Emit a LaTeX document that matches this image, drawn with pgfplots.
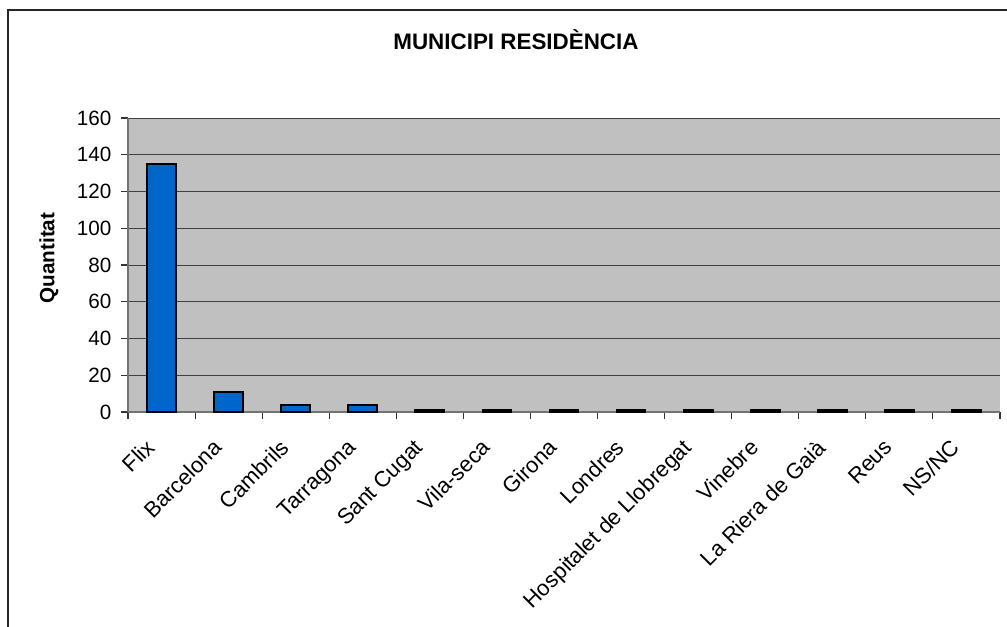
\documentclass[border=0pt]{standalone}
\usepackage{pgfplots}
\pgfplotsset{compat=1.18}
\usepackage{fontspec}
\setmainfont{Liberation Sans}
\definecolor{plotbg}{HTML}{C0C0C0}
\definecolor{barblue}{HTML}{0066CC}
\definecolor{gridc}{HTML}{404040}
\begin{document}
\begin{tikzpicture}
\path[use as bounding box] (0pt,0pt) rectangle (755.25pt,469.5pt);
\draw[line width=1.5pt,black!85] (6pt,-15pt) -- (6pt,462pt) -- (772pt,462pt);
\node[font=\fontsize{16.8}{18}\selectfont\bfseries] at (387pt,440pt) {MUNICIPI RESIDÈNCIA};
\node[font=\fontsize{15.5}{17}\selectfont\bfseries,rotate=90] at (36.75pt,276pt) {Quantitat};
\begin{axis}[
  at={(96pt,160.5pt)},anchor=south west,
  scale only axis,width=654pt,height=220.5pt,
  axis background/.style={fill=plotbg},
  xmin=-0.5,xmax=12.5,ymin=0,ymax=160,
  ytick={0,20,...,160},
  xtick={0,...,12},
  minor xtick={-0.5,0.5,...,12.5},
  xticklabels={Flix,Barcelona,Cambrils,Tarragona,Sant Cugat,Vila-seca,Girona,Londres,Hospitalet de Llobregat,Vinebre,La Riera de Gaià,Reus,NS/NC},
  major x tick style={draw=none},
  tick align=outside,
  major tick length=5pt,minor tick length=5pt,
  tick style={black!80,line width=0.8pt},
  ymajorgrids,
  major grid style={gridc,line width=0.7pt},
  axis x line*=bottom,axis y line*=left,
  axis line style={black!55,line width=1pt},
  yticklabel style={font=\fontsize{15.5}{17}\selectfont,xshift=-4pt},
  /pgf/number format/assume math mode=true,
  xticklabel style={font=\fontsize{16.5}{18}\selectfont,rotate=45,anchor=north east,inner sep=1pt,xshift=-17.9pt,yshift=-0.2pt},
  ybar,bar width=21.75pt,
]
\addplot[fill=barblue,draw=black,line width=1.3pt] coordinates {
 (0,135) (1,11) (2,4) (3,4) (4,1) (5,1) (6,1) (7,1) (8,1) (9,1) (10,1) (11,1) (12,1)};
\end{axis}
\end{tikzpicture}
\end{document}
